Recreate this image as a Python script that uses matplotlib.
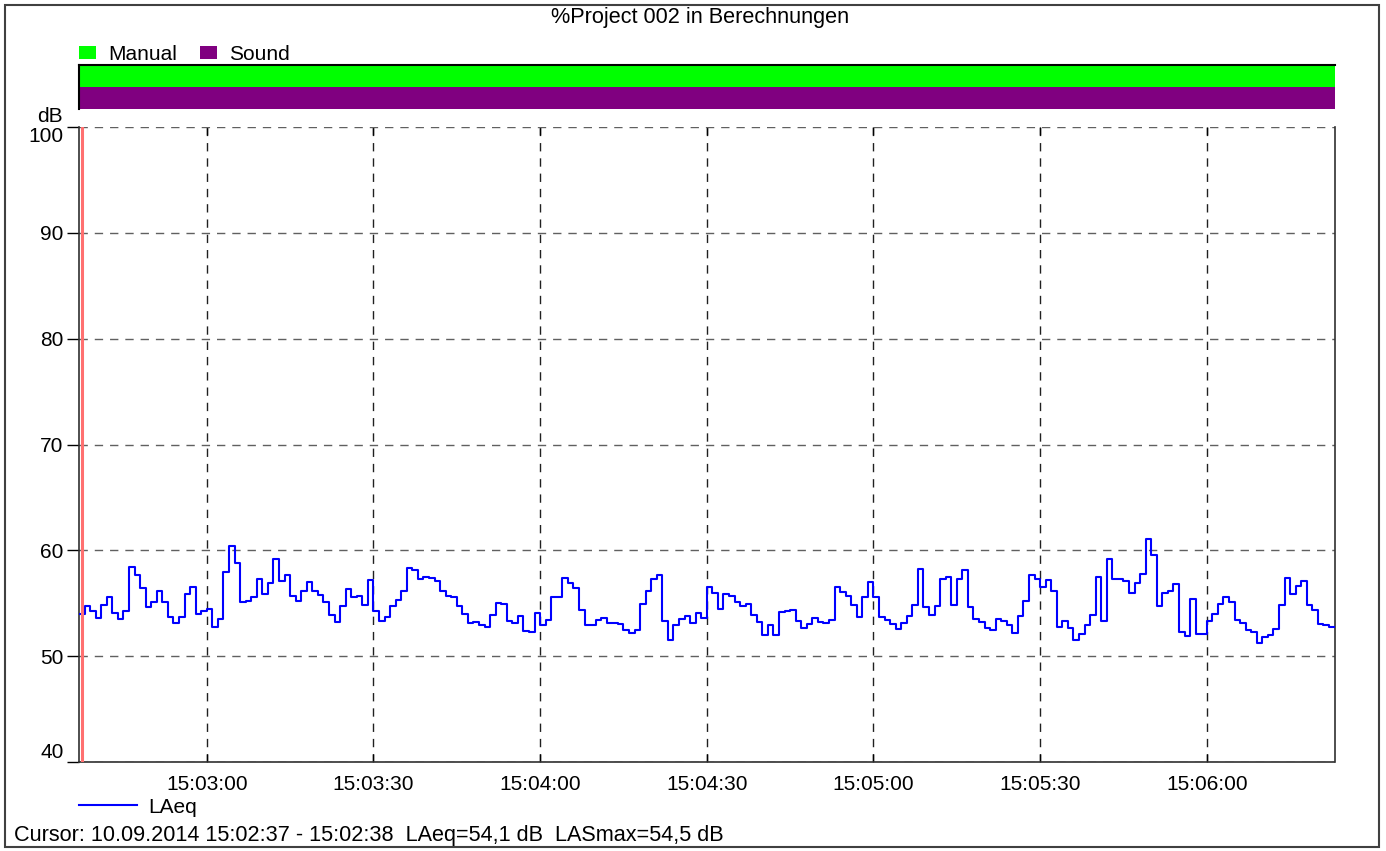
import datetime as dt
import matplotlib
matplotlib.use("Agg")
import matplotlib.pyplot as plt
import matplotlib.dates as mdates
from matplotlib.patches import Rectangle

plt.rcParams['font.family'] = ['Liberation Sans', 'DejaVu Sans']

# ---------------- data ----------------
title = "%Project 002 in Berechnungen"
start_time = dt.datetime(2014, 9, 10, 15, 2, 37)
end_time = dt.datetime(2014, 9, 10, 15, 6, 23)
laeq = [
    54.0, 54.7, 54.3, 53.6, 54.8, 55.6, 54.1, 53.5, 54.3, 58.4,
    57.7, 56.4, 54.6, 55.1, 56.2, 55.1, 53.7, 53.1, 53.7, 55.9,
    56.5, 54.0, 54.3, 54.5, 52.8, 53.5, 58.0, 60.4, 58.8, 55.1,
    55.2, 55.6, 57.3, 55.9, 56.9, 59.2, 57.1, 57.7, 55.7, 55.2,
    56.2, 57.0, 56.2, 55.8, 55.1, 53.9, 53.2, 54.7, 56.3, 55.6,
    55.7, 54.8, 57.2, 54.3, 53.3, 53.7, 54.7, 55.3, 56.2, 58.3,
    58.1, 57.3, 57.5, 57.4, 57.1, 56.2, 55.7, 55.6, 54.7, 54.0,
    53.1, 53.2, 52.9, 52.8, 53.9, 55.0, 54.9, 53.3, 53.1, 53.8,
    52.4, 52.3, 54.1, 52.9, 53.4, 55.6, 55.6, 57.4, 56.9, 56.4,
    54.4, 52.9, 52.9, 53.4, 53.6, 53.1, 53.1, 53.0, 52.5, 52.2,
    52.5, 54.9, 56.2, 57.3, 57.7, 53.3, 51.5, 52.9, 53.5, 53.8,
    53.1, 54.1, 53.6, 56.5, 56.0, 54.5, 55.9, 55.7, 55.1, 54.7,
    54.9, 53.9, 53.2, 52.0, 52.9, 52.0, 54.2, 54.3, 54.4, 53.3,
    52.7, 53.0, 53.6, 53.2, 53.1, 53.4, 56.5, 56.1, 55.7, 54.8,
    53.7, 55.6, 57.0, 55.6, 53.7, 53.4, 53.0, 52.6, 53.1, 53.8,
    54.8, 58.2, 54.6, 53.9, 54.7, 57.3, 57.5, 54.8, 57.3, 58.1,
    54.6, 53.5, 53.2, 52.7, 52.5, 53.5, 53.3, 52.9, 52.2, 53.8,
    55.2, 57.7, 57.3, 56.5, 57.2, 56.2, 52.8, 53.3, 52.7, 51.5,
    52.1, 52.9, 53.9, 57.5, 53.3, 59.2, 57.3, 57.3, 57.1, 56.0,
    56.9, 57.8, 61.1, 59.6, 54.7, 56.0, 56.2, 56.8, 52.3, 51.9,
    55.4, 52.1, 52.1, 53.3, 54.0, 54.9, 55.6, 55.1, 53.4, 53.1,
    52.5, 52.3, 51.2, 51.8, 52.0, 52.6, 54.8, 57.4, 55.9, 56.6,
    57.1, 54.8, 54.4, 53.0, 52.9, 52.8,
]
series_name = "LAeq"
event_names = ["Manual", "Sound"]
event_colors = ["#00FF00", "#800080"]
event_start = [start_time, start_time]
event_end = [end_time, end_time]
cursor_time = dt.datetime(2014, 9, 10, 15, 2, 37, 600000)
cursor_text = "Cursor: 10.09.2014 15:02:37 - 15:02:38  LAeq=54,1 dB  LASmax=54,5 dB"
y_ticks = [40, 50, 60, 70, 80, 90, 100]
y_unit = "dB"

times = [start_time + dt.timedelta(seconds=i) for i in range(len(laeq))]

# ---------------- figure ----------------
W, H = 1386, 851
fig = plt.figure(figsize=(W / 100, H / 100), dpi=100)
FS = 15

def fx(px):
    return px / W

def fy(py):
    return 1 - py / H

ax = fig.add_axes([fx(79), fy(762), fx(1334.5) - fx(79), fy(127) - fy(762)])
xt = times + [end_time]
yt = laeq + [laeq[-1]]
line, = ax.step(mdates.date2num(xt), yt, where='post', color='#0000FF', lw=1.5,
                label=series_name, zorder=3)
ax.axvline(mdates.date2num(cursor_time), color='#FF7070', lw=2.2, zorder=4)

ax.set_xlim(mdates.date2num(start_time), mdates.date2num(end_time))
ax.set_ylim(40, 100)
ax.set_yticks(y_ticks)
ax.xaxis.set_major_locator(mdates.SecondLocator(bysecond=[0, 30]))
ax.xaxis.set_major_formatter(mdates.DateFormatter('%H:%M:%S'))
ax.tick_params(axis='y', direction='out', length=9, width=1, pad=2,
               labelsize=FS, color='black')
ax.tick_params(axis='x', direction='in', length=6, width=1, pad=9,
               labelsize=FS, top=True, bottom=True)
ylabels = ax.get_yticklabels()
ylabels[0].set_va('bottom')
ylabels[-1].set_va('top')
ax.grid(axis='y', linestyle=(0, (6, 5)), color='#606060', lw=1)
ax.grid(axis='x', linestyle=(0, (6, 5)), color='#202020', lw=1)
for s in ['left', 'bottom', 'right']:
    ax.spines[s].set_color('#303030')
    ax.spines[s].set_linewidth(1.2)
ax.spines['top'].set_visible(False)

ax.legend(handles=[line], loc='center left', bbox_to_anchor=(0, -0.071),
          frameon=False, fontsize=FS, borderpad=0, borderaxespad=0,
          handlelength=2.8, handletextpad=0.5)

fig.text(fx(63), fy(116), y_unit, ha='right', va='center', fontsize=FS)

# event bars
axb = fig.add_axes([fx(79), fy(109), fx(1335) - fx(79), fy(65) - fy(109)])
for k, (nm, c, s0, s1) in enumerate(zip(event_names, event_colors, event_start, event_end)):
    axb.barh(k, mdates.date2num(s1) - mdates.date2num(s0), left=mdates.date2num(s0),
             height=1.0, color=c, label=nm)
axb.set_ylim(len(event_names) - 0.5, -0.5)
axb.set_xlim(mdates.date2num(start_time), mdates.date2num(end_time))
axb.set_xticks([])
axb.set_yticks([])
for s in ['bottom', 'right']:
    axb.spines[s].set_visible(False)
for s in ['top', 'left']:
    axb.spines[s].set_color('black')
    axb.spines[s].set_linewidth(1.5)
axb.legend(loc='center left', bbox_to_anchor=(0, (fy(54) - fy(109)) / (fy(65) - fy(109))),
           ncol=2, frameon=False, fontsize=FS, borderpad=0, borderaxespad=0,
           handlelength=0.8, handleheight=0.6, handletextpad=0.6, columnspacing=1.1)

fig.text(fx(700), fy(17), title, ha='center', va='center', fontsize=15.6)
fig.text(fx(14), fy(835), cursor_text, ha='left', va='center', fontsize=15.6)

fig.patches.append(Rectangle((fx(5), fy(847)), fx(1379) - fx(5), fy(5) - fy(847),
                             transform=fig.transFigure, fill=False,
                             edgecolor='#404040', lw=1.5))

fig.savefig("out.png", dpi=100)
